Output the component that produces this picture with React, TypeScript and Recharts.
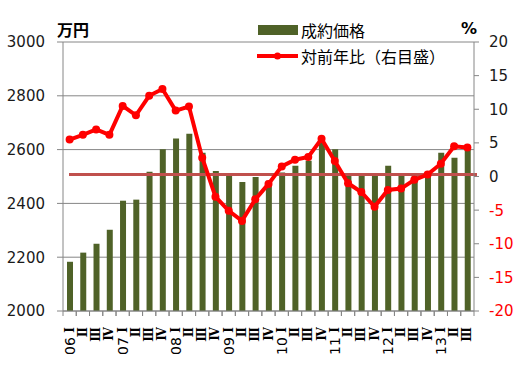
import { Bar, CartesianGrid, ComposedChart, Legend, Line, ReferenceLine, XAxis, YAxis } from "recharts";

const years = ["06", "07", "08", "09", "10", "11", "12", "13"];
const quarters = ["Ⅰ", "Ⅱ", "Ⅲ", "Ⅳ"];

// 成約価格（万円）
const prices = [
  2183, 2217, 2250, 2302, 2410, 2414, 2518, 2601, 2641, 2659, 2588, 2520, 2506, 2480, 2498, 2484,
  2515, 2540, 2559, 2629, 2601, 2512, 2508, 2506, 2540, 2505, 2508, 2510, 2588, 2570, 2603,
];

// 対前年比（%）
const yoy = [
  5.5, 6.2, 7.0, 6.2, 10.5, 9.1, 12.0, 13.0, 9.8, 10.4, 2.8, -3.0, -5.1, -6.6, -3.4, -1.1,
  1.5, 2.5, 2.9, 5.6, 2.3, -1.0, -2.3, -4.5, -2.0, -1.8, -0.5, 0.3, 1.9, 4.5, 4.3,
];

const priceTicks = [2000, 2200, 2400, 2600, 2800, 3000];
const yoyTicks = [-20, -15, -10, -5, 0, 5, 10, 15, 20];
const baseLine = 0.3;

const data = prices.map((price, i) => ({
  cat: `${years[Math.floor(i / 4)]}|${quarters[i % 4]}`,
  price,
  yoy: yoy[i],
}));

const W = 526;
const H = 375;
const LEFT_W = 63;
const RIGHT_W = 52;
const HALF_BAND = (W - LEFT_W - RIGHT_W) / prices.length / 2;
const GREEN = "#4F6228";
const RED = "#FF0000";
const GRID = "#868686";
const FONT = "'DejaVu Sans', sans-serif";
const JP = "'Noto Sans CJK JP', sans-serif";

function QuarterTick({ x, y, payload }: any) {
  const [year, q] = String(payload.value).split("|");
  return (
    <g>
      <line x1={x - HALF_BAND} y1={y} x2={x - HALF_BAND} y2={y + 5} stroke={GRID} />
      <line x1={x + HALF_BAND} y1={y} x2={x + HALF_BAND} y2={y + 5} stroke={GRID} />
      <text
        transform={`translate(${x},${y + 16}) rotate(-90)`}
        textAnchor="end"
        dominantBaseline="central"
        fill="#000"
      >
        {q === "Ⅰ" && (
          <tspan fontFamily={FONT} fontSize={14}>
            {year + " "}
          </tspan>
        )}
        <tspan fontFamily="'DejaVu Serif', serif" fontWeight="bold" fontSize={12}>
          {q}
        </tspan>
      </text>
    </g>
  );
}

function YoyTick({ x, y, payload }: any) {
  return (
    <text x={x} y={y} dy="0.36em" textAnchor="start" fontFamily={FONT} fontSize={15} fill={payload.value < 0 ? RED : "#1A1A1A"}>
      {payload.value}
    </text>
  );
}

function LegendBox() {
  return (
    <div style={{ fontFamily: JP, fontSize: 16, color: "#000" }}>
      <div style={{ display: "flex", alignItems: "center", height: 26 }}>
        <svg width={46} height={12}>
          <rect x={3} y={1} width={40} height={10} fill={GREEN} />
        </svg>
        <span>成約価格</span>
      </div>
      <div style={{ display: "flex", alignItems: "center", height: 26 }}>
        <svg width={46} height={12}>
          <line x1={2} y1={6} x2={43} y2={6} stroke={RED} strokeWidth={4} />
          <circle cx={22.5} cy={6} r={3.5} fill={RED} />
        </svg>
        <span>対前年比（右目盛）</span>
      </div>
    </div>
  );
}

export default function App() {
  return (
    <div style={{ position: "absolute", left: 0, top: 0, width: W, height: H, background: "#fff", fontFamily: FONT }}>
      <div style={{ position: "absolute", left: 57, top: 19, fontFamily: JP, fontWeight: "bold", fontSize: 16, lineHeight: "20px" }}>
        万円
      </div>
      <div style={{ position: "absolute", right: W - 477, top: 19, fontFamily: FONT, fontWeight: "bold", fontSize: 16, lineHeight: "20px" }}>
        %
      </div>
      <ComposedChart width={W} height={H} data={data} margin={{ top: 42, right: 0, bottom: 0, left: 0 }}>
        <CartesianGrid yAxisId="left" vertical={false} stroke={GRID} />
        <XAxis
          dataKey="cat"
          interval={0}
          height={64}
          tickSize={0}
          tickMargin={0}
          tickLine={false}
          axisLine={{ stroke: GRID }}
          tick={<QuarterTick />}
        />
        <YAxis
          yAxisId="left"
          width={LEFT_W}
          domain={[2000, 3000]}
          ticks={priceTicks}
          tickSize={6}
          tickMargin={12}
          axisLine={{ stroke: GRID }}
          tickLine={{ stroke: GRID }}
          tick={{ fill: "#1A1A1A", fontSize: 15, fontFamily: FONT }}
        />
        <YAxis
          yAxisId="right"
          orientation="right"
          width={RIGHT_W}
          domain={[-20, 20]}
          ticks={yoyTicks}
          tickSize={5}
          tickMargin={10}
          axisLine={{ stroke: GRID }}
          tickLine={{ stroke: GRID }}
          tick={<YoyTick />}
        />
        <Legend
          layout="horizontal"
          verticalAlign="middle"
          align="center"
          content={() => <LegendBox />}
          wrapperStyle={{ left: 255, top: 17, width: 220 }}
        />
        <Bar yAxisId="left" dataKey="price" name="成約価格" fill={GREEN} barSize={6} isAnimationActive={false} />
        <ReferenceLine
          yAxisId="right"
          y={baseLine}
          stroke="#C0504D"
          strokeWidth={3}
          shape={(p: any) => (
            <line x1={p.x1 + 3} y1={p.y1} x2={p.x2 + 6} y2={p.y2} stroke="#C0504D" strokeWidth={3} />
          )}
        />
        <Line
          yAxisId="right"
          dataKey="yoy"
          name="対前年比（右目盛）"
          type="linear"
          stroke={RED}
          strokeWidth={4}
          dot={{ r: 4, fill: RED, stroke: RED, strokeWidth: 0 }}
          isAnimationActive={false}
        />
      </ComposedChart>
    </div>
  );
}
